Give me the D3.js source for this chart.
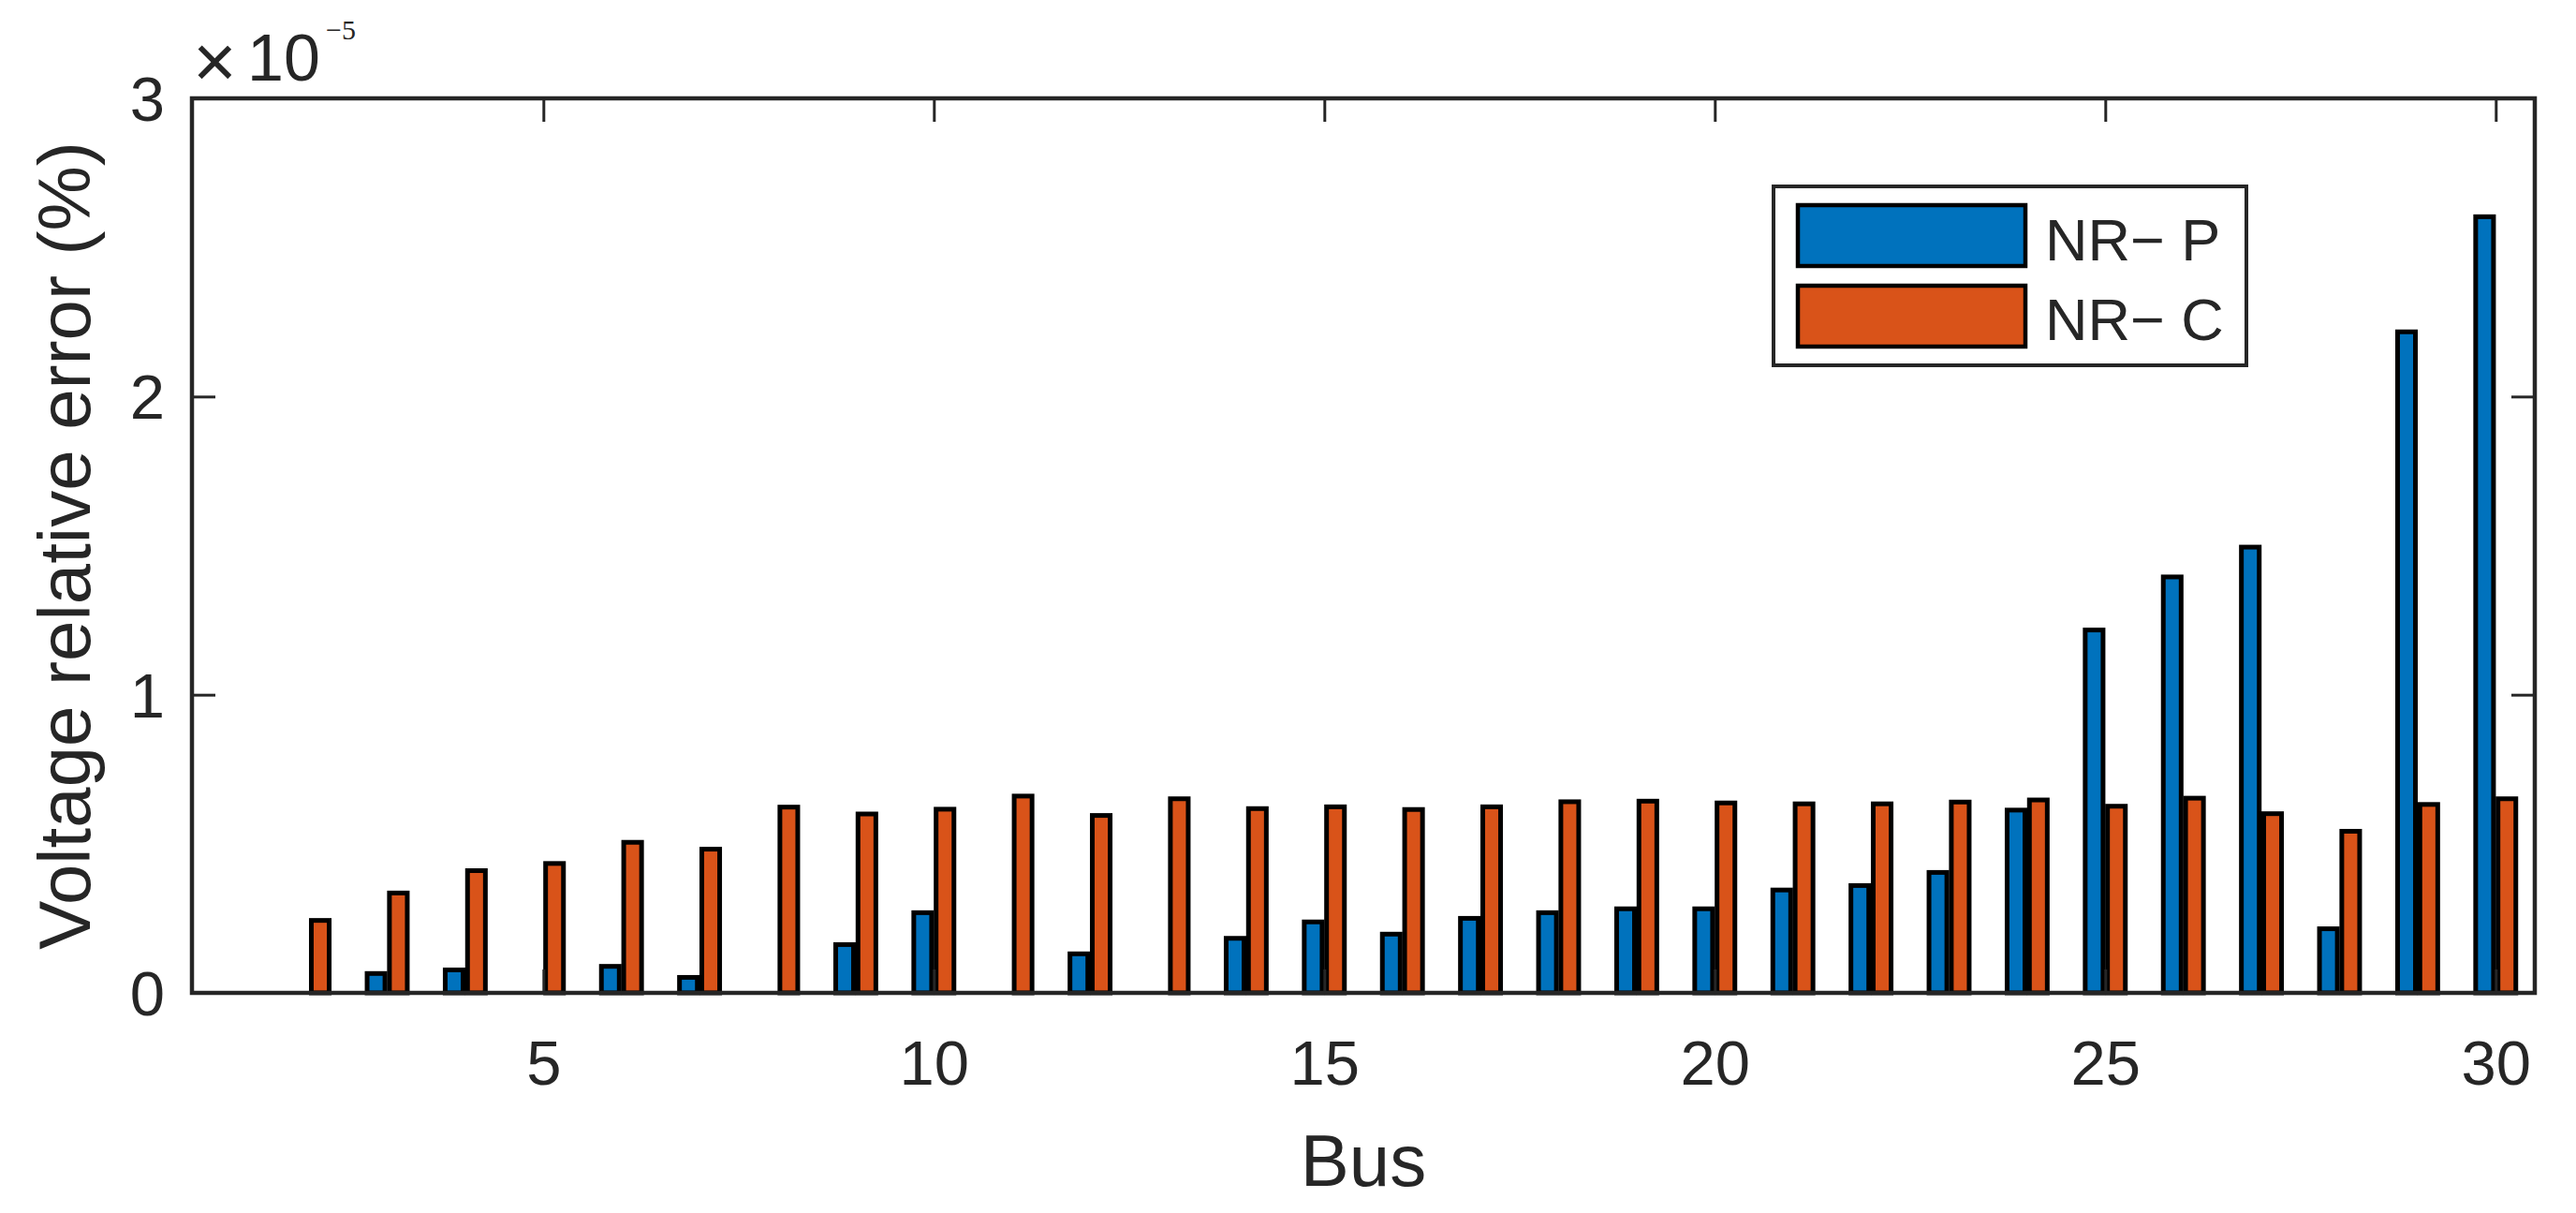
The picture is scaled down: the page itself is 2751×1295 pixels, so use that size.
<!DOCTYPE html>
<html>
<head>
<meta charset="utf-8">
<script src="https://cdn.jsdelivr.net/npm/d3@7"></script>
<style>
  html, body { margin: 0; padding: 0; background: #fff; }
  svg { display: block; }
  text { font-family: "Liberation Sans", Arial, sans-serif; fill: #262626; }
</style>
</head>
<body>
<svg id="chart" width="2751" height="1295"></svg>
<script>
// ---- data (values in units of 1e-5 %) ----
const buses = [1,2,3,4,5,6,7,8,9,10,11,12,13,14,15,16,17,18,19,20,21,22,23,24,25,26,27,28,29,30];
const nrP = [0, 0, 0.065, 0.077, 0, 0.089, 0.052, 0, 0.162, 0.269,
             0, 0.131, 0, 0.183, 0.238, 0.197, 0.250, 0.269, 0.282, 0.282,
             0.345, 0.360, 0.404, 0.613, 1.217, 1.395, 1.495, 0.215, 2.217, 2.603];
const nrC = [0, 0.243, 0.335, 0.410, 0.434, 0.505, 0.482, 0.623, 0.600, 0.616,
             0.660, 0.595, 0.651, 0.618, 0.624, 0.615, 0.624, 0.641, 0.643, 0.637,
             0.634, 0.634, 0.640, 0.647, 0.626, 0.653, 0.601, 0.542, 0.632, 0.651];
const seriesNames = ["NR\u2212 P", "NR\u2212 C"];
const seriesColors = ["#0072BD", "#D95319"];
const xTicks = [5, 10, 15, 20, 25, 30];
const yTicks = [0, 1, 2, 3];
const exponent = "\u22125";
const xLabel = "Bus";
const yLabel = "Voltage relative error (%)";

// ---- layout ----
const L = 205, R = 2707, T = 105, B = 1060;
const axisColor = "#262626";
const svg = d3.select("#chart");

const x = d3.scaleLinear().domain([0.5, 30.5]).range([L, R]);
const y = d3.scaleLinear().domain([0, 3]).range([B, T]);

// MATLAB grouped-bar geometry
const nSeries = 2;
const groupWidth = Math.min(0.8, nSeries / (nSeries + 1.5));
const barW = groupWidth / nSeries * 0.8;
const offsets = [-groupWidth / 4, groupWidth / 4];

const series = [nrP, nrC];
series.forEach((vals, si) => {
  svg.append("g").selectAll("rect")
    .data(buses.map((b, i) => ({ b, v: vals[i] })))
    .join("rect")
    .attr("x", d => x(d.b + offsets[si] - barW / 2))
    .attr("width", d => x(d.b + offsets[si] + barW / 2) - x(d.b + offsets[si] - barW / 2))
    .attr("y", d => y(d.v))
    .attr("height", d => y(0) - y(d.v))
    .attr("fill", seriesColors[si])
    .attr("stroke", "#000")
    .attr("stroke-width", 5);
});

// ---- axes (box with inward ticks) ----
const tickLen = 25;
const fs = 67;
// bottom axis
const gx = svg.append("g").attr("transform", `translate(0,${B})`)
  .call(d3.axisBottom(x).tickValues(xTicks).tickSize(-tickLen).tickPadding(0).tickFormat(d3.format("d")));
gx.select(".domain").remove();
gx.selectAll(".tick line").attr("stroke", axisColor).attr("stroke-width", 3);
gx.selectAll(".tick text").attr("font-size", fs).attr("y", 98).attr("dy", null).attr("fill", axisColor)
  .style("font-family", '"Liberation Sans", Arial, sans-serif');
// top ticks
const gxt = svg.append("g").attr("transform", `translate(0,${T})`)
  .call(d3.axisTop(x).tickValues(xTicks).tickSize(-tickLen).tickFormat(""));
gxt.select(".domain").remove();
gxt.selectAll(".tick line").attr("stroke", axisColor).attr("stroke-width", 3);
// left axis
const gy = svg.append("g").attr("transform", `translate(${L},0)`)
  .call(d3.axisLeft(y).tickValues(yTicks).tickSize(-tickLen).tickPadding(0).tickFormat(d3.format("d")));
gy.select(".domain").remove();
gy.selectAll(".tick line").attr("stroke", axisColor).attr("stroke-width", 3);
gy.selectAll(".tick text").attr("font-size", fs).attr("x", -29).attr("dy", "0.35em").attr("fill", axisColor)
  .style("font-family", '"Liberation Sans", Arial, sans-serif');
// right ticks
const gyr = svg.append("g").attr("transform", `translate(${R},0)`)
  .call(d3.axisRight(y).tickValues(yTicks).tickSize(-tickLen).tickFormat(""));
gyr.select(".domain").remove();
gyr.selectAll(".tick line").attr("stroke", axisColor).attr("stroke-width", 3);

// box
svg.append("rect").attr("x", L).attr("y", T).attr("width", R - L).attr("height", B - T)
  .attr("fill", "none").attr("stroke", axisColor).attr("stroke-width", 4.5);

// exponent label (×10^-5)
svg.append("text").attr("x", 206).attr("y", 93).attr("font-size", 80).text("\u00D7");
svg.append("text").attr("x", 264).attr("y", 86).attr("font-size", 70).text("10");
svg.append("text").attr("x", 348).attr("y", 42).attr("font-size", 30)
  .style("font-family", '"Liberation Serif", "Times New Roman", serif').text(exponent);

// axis labels
svg.append("text").attr("x", (L + R) / 2).attr("y", 1266).attr("text-anchor", "middle")
  .attr("font-size", 78).text(xLabel);
svg.append("text").attr("transform", `translate(96,${(T + B) / 2}) rotate(-90)`)
  .attr("text-anchor", "middle").attr("font-size", 78).text(yLabel);

// legend
const lg = svg.append("g");
lg.append("rect").attr("x", 1894).attr("y", 199).attr("width", 505).attr("height", 191)
  .attr("fill", "#fff").attr("stroke", axisColor).attr("stroke-width", 4);
const rows = [{ y0: 219, base: 278 }, { y0: 305, base: 363 }];
seriesNames.forEach((name, i) => {
  lg.append("rect").attr("x", 1920).attr("y", rows[i].y0).attr("width", 243).attr("height", 65)
    .attr("fill", seriesColors[i]).attr("stroke", "#000").attr("stroke-width", 4.5);
  lg.append("text").attr("x", 2184).attr("y", rows[i].base).attr("font-size", 63).text(name);
});
</script>
</body>
</html>
